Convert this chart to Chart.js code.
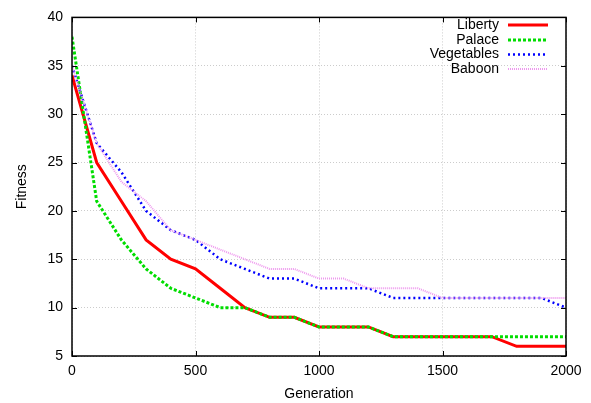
<!DOCTYPE html>
<html>
<head>
<meta charset="utf-8">
<script src="https://cdn.jsdelivr.net/npm/chart.js@4/dist/chart.umd.min.js"></script>
<style>
html,body{margin:0;padding:0;background:#fff;}
#wrap{width:591px;height:403px;}
</style>
</head>
<body>
<div id="wrap"><canvas id="c" width="591" height="403"></canvas></div>
<script>
const generations = [0,100,200,300,400,500,600,700,800,900,1000,1100,1200,1300,1400,1500,1600,1700,1800,1900,2000];
const liberty    = [34,25,21,17,15,14,12,10,9,9,8,8,8,7,7,7,7,7,6,6,6];
const palace     = [38,21,17,14,12,11,10,10,9,9,8,8,8,7,7,7,7,7,7,7,7];
const vegetables = [35,27,24,20,18,17,15,14,13,13,12,12,12,11,11,11,11,11,11,11,10];
const baboon     = [35,27,23,21,18,17,16,15,14,14,13,13,12,12,12,11,11,11,11,11,11];
const seriesNames = ['Liberty','Palace','Vegetables','Baboon'];
const xTicks = [0,500,1000,1500,2000];
const yTicks = [5,10,15,20,25,30,35,40];

const FONT = 'Liberation Sans, Arial, Helvetica, sans-serif';
const toPts = arr => arr.map((v,i)=>({x:generations[i], y:v}));

const styles = [
  {color:'#ff0000', width:3,   dash:[],    order:4},
  {color:'#00dd00', width:3,   dash:[3,2], order:3},
  {color:'#0000ff', width:2.5, dash:[2,3], order:2},
  {color:'#ee99ee', width:2,   dash:[1,1], order:1}
];
const allData = [liberty, palace, vegetables, baboon];

const frameAndLegend = {
  id:'frameAndLegend',
  afterDatasetsDraw(chart){
    const ctx = chart.ctx, a = chart.chartArea;
    const xs = chart.scales.x, ys = chart.scales.y;
    ctx.save();
    ctx.strokeStyle = '#000';
    ctx.lineWidth = 1;
    ctx.setLineDash([]);
    ctx.beginPath();
    xTicks.forEach(t=>{
      const px = Math.round(xs.getPixelForValue(t))+0.5;
      ctx.moveTo(px, a.bottom); ctx.lineTo(px, a.bottom-5);
      ctx.moveTo(px, a.top); ctx.lineTo(px, a.top+5);
    });
    yTicks.forEach(t=>{
      const py = Math.round(ys.getPixelForValue(t))+0.5;
      ctx.moveTo(a.left, py); ctx.lineTo(a.left+5, py);
      ctx.moveTo(a.right, py); ctx.lineTo(a.right-5, py);
    });
    ctx.stroke();
    ctx.lineWidth = 1.5;
    ctx.strokeRect(a.left, a.top, a.right-a.left, a.bottom-a.top);
    ctx.font = '14px ' + FONT;
    ctx.textAlign = 'right';
    ctx.textBaseline = 'middle';
    const rows = [25, 40, 54.5, 69];
    chart.data.datasets.forEach((ds,i)=>{
      const y = rows[i];
      ctx.fillStyle = '#000';
      ctx.fillText(ds.label, 499, y);
      ctx.strokeStyle = ds.borderColor;
      ctx.lineWidth = ds.borderWidth;
      ctx.setLineDash(ds.borderDash);
      ctx.beginPath();
      ctx.moveTo(508, y); ctx.lineTo(548, y);
      ctx.stroke();
    });
    ctx.restore();
  }
};

new Chart(document.getElementById('c'), {
  type:'line',
  data:{
    datasets: allData.map((arr,i)=>({
      label: seriesNames[i],
      data: toPts(arr),
      borderColor: styles[i].color,
      backgroundColor: styles[i].color,
      borderWidth: styles[i].width,
      borderDash: styles[i].dash,
      order: styles[i].order,
      pointRadius: 0,
      tension: 0,
      fill: false
    }))
  },
  options:{
    responsive:false,
    animation:false,
    layout:{padding:{top:13,right:25,left:0,bottom:0}},
    plugins:{legend:{display:false}, tooltip:{enabled:false}},
    scales:{
      x:{
        type:'linear', min:0, max:2000,
        afterBuildTicks(s){ s.ticks = xTicks.map(v=>({value:v})); },
        afterFit(s){ s.height = 47; },
        ticks:{ color:'#000', font:{family:FONT,size:14}, padding:7, maxRotation:0, autoSkip:false, callback:v=>String(v) },
        grid:{ color:'#cccccc', lineWidth:1, drawTicks:false },
        border:{ display:false, dash:[1,2] },
        title:{ display:true, text:'Generation', color:'#000', font:{family:FONT,size:14}, padding:{top:0,bottom:0} }
      },
      y:{
        type:'linear', min:5, max:40,
        afterBuildTicks(s){ s.ticks = yTicks.map(v=>({value:v})); },
        afterFit(s){ s.width = 72; },
        ticks:{ color:'#000', font:{family:FONT,size:14}, padding:9, callback:v=>String(v) },
        grid:{ color:'#cccccc', lineWidth:1, drawTicks:false },
        border:{ display:false, dash:[1,2] },
        title:{ display:true, text:'Fitness', color:'#000', font:{family:FONT,size:14}, padding:{top:14,bottom:14} }
      }
    }
  },
  plugins:[frameAndLegend]
});
</script>
</body>
</html>
